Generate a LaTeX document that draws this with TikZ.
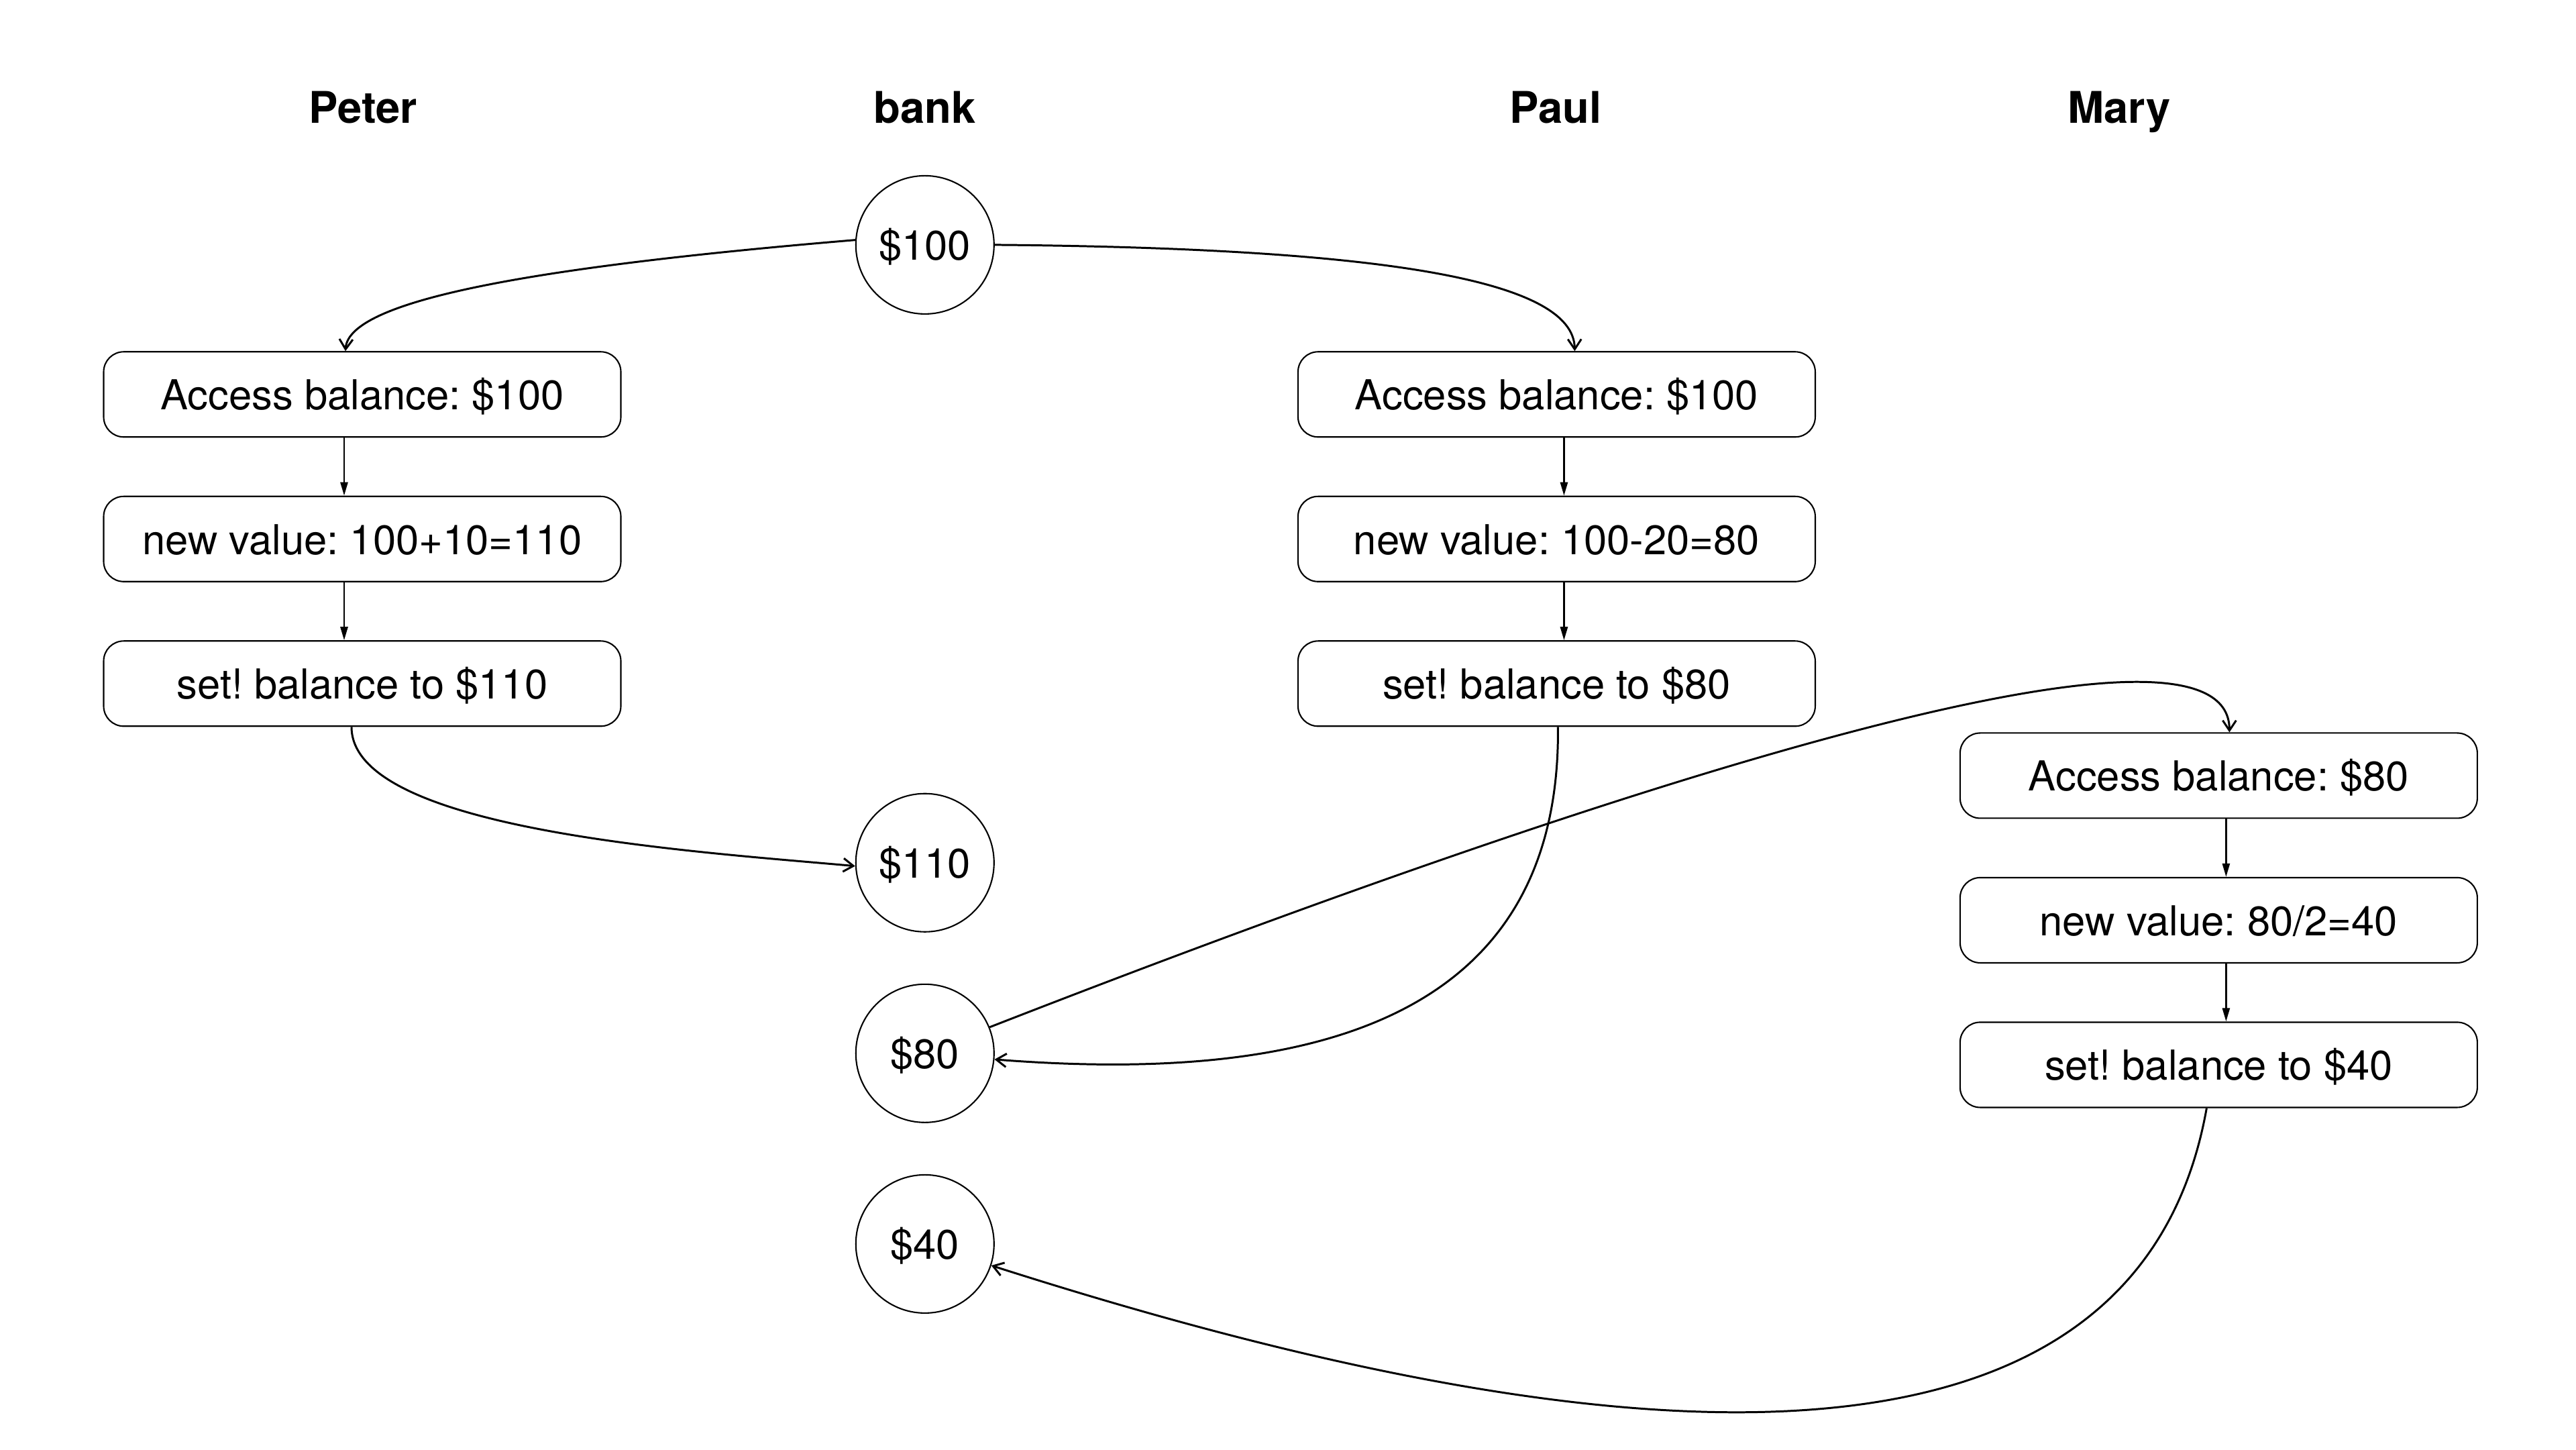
\documentclass[tikz,border=0pt]{standalone}
\usepackage{fontspec}
\setmainfont{TeX Gyre Heros}
\usetikzlibrary{arrows.meta,calc}
\begin{document}
\frenchspacing
\begin{tikzpicture}[x=0.02449cm,y=-0.02449cm,
  every node/.style={font=\fontsize{17.5pt}{20pt}\selectfont},
  hdr/.style={font=\fontsize{18.5pt}{22pt}\selectfont\bfseries,anchor=base},
  stepbox/.style={draw,line width=0.6pt,rounded corners=0.3cm,minimum width=7.71cm,minimum height=1.27cm,inner sep=0pt,text height=0.5cm,text depth=0.04cm},
  money/.style={draw,circle,line width=0.6pt,minimum size=2.06cm,inner sep=0pt,text height=0.5cm,text depth=0.04cm},
  flow/.style={line width=0.75pt,-{Triangle[length=0.2cm,width=0.11cm]}},
  link/.style={line width=0.85pt,-{Straight Barb[length=0.15cm,width=0.2cm]}}]
\useasboundingbox (0,0) rectangle (1568,882);
% headers
\node[hdr] (hpeter) at (221,75) {Peter};
\node[hdr] (hbank) at (563,75) {bank};
\node[hdr] (hpaul) at (947,75) {Paul};
\node[hdr] (hmary) at (1290,75) {Mary};
% bank values
\node[money] (b100) at (563,149) {\$100};
\node[money] (b110) at (563,525) {\$110};
\node[money] (b80) at (563,641) {\$80};
\node[money] (b40) at (563,757) {\$40};
% Peter
\node[stepbox] (pe1) at (220.5,240) {Access balance: \$100};
\node[stepbox] (pe2) at (220.5,328) {new value: 100+10=110};
\node[stepbox] (pe3) at (220.5,416) {set! balance to \$110};
% Paul
\node[stepbox] (pa1) at (947.5,240) {Access balance: \$100};
\node[stepbox] (pa2) at (947.5,328) {new value: 100-20=80};
\node[stepbox] (pa3) at (947.5,416) {set! balance to \$80};
% Mary
\node[stepbox] (ma1) at (1350.5,472) {Access balance: \$80};
\node[stepbox] (ma2) at (1350.5,560) {new value: 80/2=40};
\node[stepbox] (ma3) at (1350.5,648) {set! balance to \$40};
% vertical flows
\draw[flow] ([xshift=-0.27cm]pe1.south) -- ([xshift=-0.27cm]pe2.north);
\draw[flow] ([xshift=-0.27cm]pe2.south) -- ([xshift=-0.27cm]pe3.north);
\draw[flow] ([xshift=0.11cm]pa1.south) -- ([xshift=0.11cm]pa2.north);
\draw[flow] ([xshift=0.11cm]pa2.south) -- ([xshift=0.11cm]pa3.north);
\draw[flow] ([xshift=0.11cm]ma1.south) -- ([xshift=0.11cm]ma2.north);
\draw[flow] ([xshift=0.11cm]ma2.south) -- ([xshift=0.11cm]ma3.north);
% coordinates on node borders
\coordinate (pe1t) at ([xshift=-0.25cm]pe1.north);
\coordinate (pa1t) at ([xshift=0.27cm]pa1.north);
\coordinate (pe3b) at ([xshift=-0.16cm]pe3.south);
\coordinate (pa3b) at ([xshift=0.02cm]pa3.south);
\coordinate (ma1t) at ([xshift=0.16cm]ma1.north);
\coordinate (ma3b) at ([xshift=-0.18cm]ma3.south);
% curved links
\draw[link] (b100.{176}) .. controls (330,162) and (212,182) .. (pe1t);
\draw[link] (b100.east) .. controls (840,151) and (958,170) .. (pa1t);
\draw[link] (pe3b) .. controls (214,505) and (420,518) .. ([yshift=-0.05cm]b110.west);
\draw[link] (pa3b) .. controls (950,620) and (800,660) .. (b80.{-5});
\draw[link] (b80.{22}) .. controls (1000,470) and (1357,360) .. (ma1t);
\draw[link] (ma3b) .. controls (1295,945) and (900,865) .. (b40.{-18});
\end{tikzpicture}
\end{document}
